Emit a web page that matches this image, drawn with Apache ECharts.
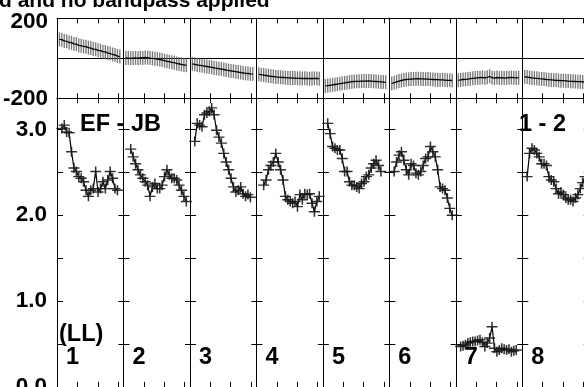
<!DOCTYPE html>
<html><head><meta charset="utf-8">
<script src="https://cdn.jsdelivr.net/npm/echarts@6/dist/echarts.min.js"></script>
<style>html,body{margin:0;padding:0;background:#fff}#c{width:584px;height:387px}</style>
</head><body><div id="c"></div>
<script>
// ---- data ----
const titleText = 'd and no bandpass applied';
const baselineLabel = 'EF - JB';
const stokesLabel = '(LL)';
const sourceLabel = '1 - 2';
const ifLabels = ['1','2','3','4','5','6','7','8'];
const phaseTicks = [-200, 0, 200];
const ampTicks = ['0.0','1.0','2.0','3.0'];

// first channel of each IF's amplitude / phase trace
const ampStart = [2, 3, 2, 3, 2, 2, 2, 2];
const phaseStart = [1, 1, 1, 1, 1, 1, 1, 1];

const amp1 = [3.01,3.05,2.97,2.96,2.74,2.55,2.51,2.45,2.43,2.39,2.29,2.22,2.29,2.31,2.51,2.27,2.31,2.39,2.31,2.41,2.51,2.43,2.31,2.29];
const amp2 = [2.77,2.68,2.60,2.53,2.47,2.43,2.39,2.35,2.22,2.33,2.37,2.31,2.31,2.35,2.45,2.53,2.47,2.43,2.43,2.41,2.35,2.29,2.22,2.16];
const amp3 = [2.86,3.07,3.05,3.03,3.17,3.19,3.21,3.25,3.17,2.99,2.91,2.84,2.72,2.62,2.53,2.43,2.33,2.27,2.29,2.33,2.25,2.22,2.24,2.21];
const amp4 = [2.35,2.41,2.53,2.58,2.62,2.72,2.62,2.53,2.41,2.22,2.18,2.16,2.14,2.16,2.10,2.24,2.18,2.25,2.24,2.25,2.14,2.04,2.16,2.22];
const amp5 = [3.07,2.95,2.80,2.78,2.76,2.76,2.66,2.51,2.51,2.39,2.35,2.35,2.33,2.31,2.37,2.39,2.45,2.47,2.55,2.60,2.64,2.58,2.51];
const amp6 = [2.51,2.62,2.70,2.74,2.64,2.53,2.47,2.60,2.58,2.49,2.47,2.51,2.58,2.66,2.68,2.80,2.74,2.68,2.53,2.33,2.31,2.29,2.20,2.08,2.00];
const amp7 = [0.47,0.48,0.49,0.51,0.52,0.53,0.53,0.54,0.55,0.52,0.47,0.51,0.57,0.70,0.45,0.41,0.43,0.45,0.44,0.43,0.44,0.41,0.42,0.43];
const amp8 = [2.45,2.72,2.78,2.76,2.72,2.68,2.60,2.60,2.58,2.45,2.41,2.39,2.31,2.25,2.27,2.24,2.20,2.18,2.18,2.16,2.20,2.24,2.31,2.38,2.45];

const ph1 = [95,93,87,85,79,78,72,71,65,63,59,58,53,51,46,45,40,38,33,32,26,24,19,17,11,9];
const ph2 = [2,1,0,1,2,0,3,2,4,3,1,0,-2,-4,-6,-9,-12,-15,-17,-20,-22,-26,-28,-31,-33,-35];
const ph3 = [-28,-30,-33,-35,-37,-39,-41,-43,-45,-48,-50,-52,-54,-56,-59,-61,-63,-65,-67,-69,-71,-73,-75,-76,-78,-79];
const ph4 = [-80,-82,-84,-86,-88,-90,-91,-93,-94,-95,-96,-97,-98,-98,-99,-99,-100,-100,-101,-100,-101,-102,-101,-100,-101,-102];
const ph5 = [-138,-137,-135,-133,-131,-129,-127,-125,-123,-121,-119,-117,-116,-115,-115,-114,-114,-114,-113,-114,-115,-116,-117,-118,-119,-120];
const ph6 = [-126,-122,-118,-114,-111,-108,-106,-105,-104,-103,-103,-102,-103,-103,-104,-104,-105,-106,-107,-107,-108,-108,-109,-110,-110,-111];
const ph7 = [-110,-108,-106,-105,-104,-102,-100,-99,-98,-97,-96,-98,-95,-90,-97,-99,-96,-98,-97,-99,-98,-97,-96,-97,-98,-97];
const ph8 = [-92,-94,-96,-98,-99,-100,-102,-103,-104,-106,-107,-108,-109,-110,-111,-112,-112,-113,-114,-115,-115,-116,-117,-117,-118,-119];

const ampSeries = [amp1,amp2,amp3,amp4,amp5,amp6,amp7,amp8];
const phaseSeries = [ph1,ph2,ph3,ph4,ph5,ph6,ph7,ph8];

// ---- layout ----
const L0 = 57, PW = 66.47;
const PH_TOP = 18.3, PH_H = 80;
const AM_TOP = 98.3, AM_H = 288.6;
const CH_MAX = 27.5, CH_TICK = 8.44;
const AMP_MAX = 3.362;
const FONT = '"Liberation Sans", Arial, Helvetica, sans-serif';
const PLUS = 'path://M0,4.3L10,4.3L10,5.7L0,5.7Z M4.3,0L5.7,0L5.7,10L4.3,10Z';

const grids = [], xAxes = [], yAxes = [], series = [];
const black = {color:'#000', width:1};

function xAx(g, pos) {
  return {type:'value', gridIndex:g, position:pos, min:0, max:CH_MAX, interval:CH_TICK,
    axisLine:{show:true, onZero:false, lineStyle:black},
    axisTick:{show:true, inside:true, length:5, lineStyle:black},
    axisLabel:{show:false}, splitLine:{show:false}};
}

for (let i = 0; i < 8; i++) {
  const left = L0 + PW * i;
  // phase grid
  const gp = grids.length;
  grids.push({left:left, top:PH_TOP, width:PW, height:PH_H, containLabel:false, outerBoundsMode:'none'});
  xAxes.push(xAx(gp,'bottom'), xAx(gp,'top'));
  yAxes.push({type:'value', gridIndex:gp, position:'left', min:phaseTicks[0], max:phaseTicks[2], interval:200,
    axisLine:{show:true, onZero:false, lineStyle:black}, axisTick:{show:false},
    splitLine:{show:true, lineStyle:black},
    axisLabel:{show:i===0, margin:9, color:'#000', fontSize:22.5, fontWeight:'bold', fontFamily:FONT,
      formatter: v => v === 0 ? '' : (v > 0 ? '{t|' + v + '}' : String(v)),
      rich:{t:{fontSize:22.5, fontWeight:'bold', fontFamily:FONT, color:'#000', padding:[6,0,0,0]}}}});
  yAxes.push({type:'value', gridIndex:gp, position:'right', min:-200, max:200, interval:200,
    axisLine:{show:true, onZero:false, lineStyle:black}, axisTick:{show:false},
    axisLabel:{show:false}, splitLine:{show:false}});
  const phData = phaseSeries[i].map((v, k) => [phaseStart[i] + k, v]);
  series.push({type:'scatter', xAxisIndex:2*gp, yAxisIndex:2*gp, data:phData,
    symbol:'rect', symbolSize:[1.3,14], itemStyle:{color:'#555'}, silent:true, z:2, clip:true});
  series.push({type:'line', xAxisIndex:2*gp, yAxisIndex:2*gp, data:phData,
    showSymbol:false, lineStyle:{color:'#000', width:1.3}, silent:true, z:3, clip:true});

  // amplitude grid
  const ga = grids.length;
  grids.push({left:left, top:AM_TOP, width:PW, height:AM_H, containLabel:false, outerBoundsMode:'none'});
  xAxes.push(xAx(ga,'bottom'), xAx(ga,'top'));
  yAxes.push({type:'value', gridIndex:ga, position:'left', min:0, max:AMP_MAX, interval:0.5,
    axisLine:{show:true, onZero:false, lineStyle:black},
    axisTick:{show:true, inside:true, length:6, lineStyle:black},
    splitLine:{show:false},
    axisLabel:{show:i===0, margin:10, color:'#000', fontSize:22.5, fontWeight:'bold', fontFamily:FONT,
      showMaxLabel:false,
      formatter: v => { const s = v.toFixed(1); return ampTicks.indexOf(s) >= 0 && Math.abs(v - Math.round(v)) < 1e-6 ? s : ''; }}});
  yAxes.push({type:'value', gridIndex:ga, position:'right', min:0, max:AMP_MAX, interval:0.5,
    axisLine:{show:true, onZero:false, lineStyle:black},
    axisTick:{show:true, inside:true, length:5, lineStyle:black},
    axisLabel:{show:false}, splitLine:{show:false}});
  const amData = ampSeries[i].map((v, k) => [ampStart[i] + k, v]);
  series.push({type:'line', xAxisIndex:2*ga, yAxisIndex:2*ga, data:amData,
    symbol:PLUS, symbolSize:[11,10], showSymbol:true, showAllSymbol:true,
    itemStyle:{color:'#1a1a1a', opacity:0.9},
    lineStyle:{color:'#000', width:1.2}, silent:true, z:3, clip:true});
}

const txt = (text, x, y, size) => ({type:'text', x:x, y:y, silent:true, z:10,
  style:{text:text, fill:'#000', fontSize:size, fontWeight:'bold', fontFamily:FONT, align:'left', verticalAlign:'middle'}});

const graphic = [
  txt(titleText, -1, 1.3, 21),
  txt(baselineLabel, 80, 124.4, 23.5),
  txt(sourceLabel, 519, 124.4, 23.5),
  txt(stokesLabel, 59, 335, 23.5)
];
ifLabels.forEach((s, i) => graphic.push(txt(s, L0 + PW * i + 9, 357.7, 23.5)));

const chart = echarts.init(document.getElementById('c'), null, {renderer:'canvas'});
chart.setOption({
  animation:false, backgroundColor:'#fff',
  grid:grids, xAxis:xAxes, yAxis:yAxes, series:series, graphic:graphic
});
</script></body></html>
